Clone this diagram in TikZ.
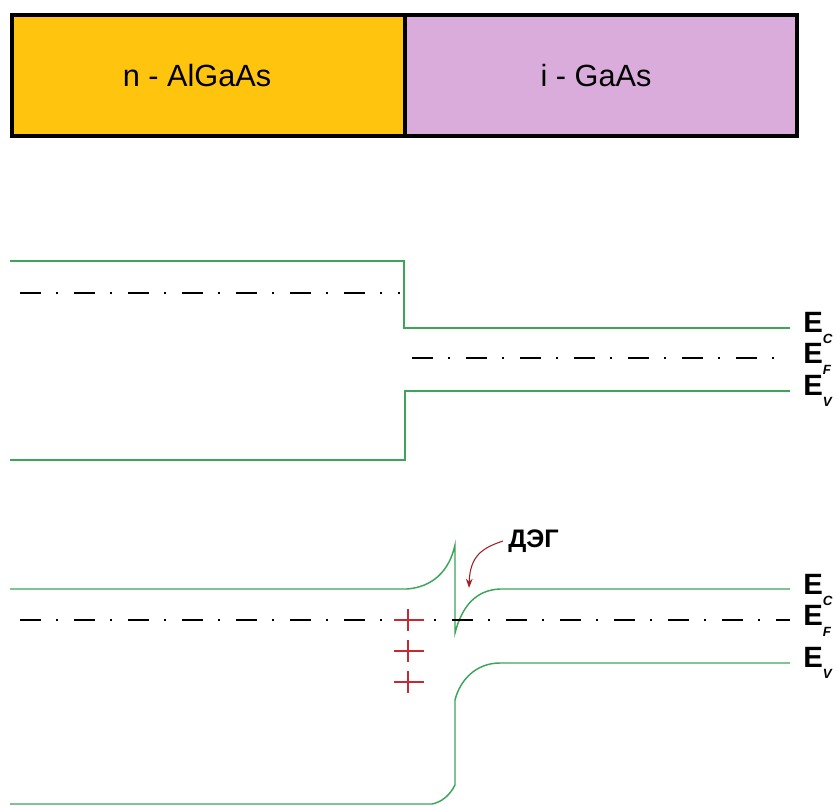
\documentclass[tikz,border=0pt]{standalone}
\usepackage{fontspec}
\setmainfont{Liberation Sans}
\usetikzlibrary{arrows.meta}
\definecolor{bandgreen}{RGB}{60,165,90}
\definecolor{ngold}{RGB}{255,196,14}
\definecolor{ipink}{RGB}{218,172,220}
\definecolor{plusred}{RGB}{200,40,50}
\tikzset{
  band/.style={draw=bandgreen,line width=1.1pt},
  fermi/.style={draw=black,line width=1.2pt,dash pattern=on 16pt off 11pt on 1.5pt off 12pt},
  lyr/.style={draw=black,line width=2.4pt},
  lbl/.style={font=\fontsize{22}{22}\selectfont\bfseries,anchor=west,inner sep=0pt},
  plusmark/.style={draw=plusred,line width=0.8pt},
}
\newcommand{\elab}[1]{E\raisebox{-0.7ex}{\fontsize{10}{10}\selectfont\itshape #1}}
\begin{document}
\begin{tikzpicture}[x=0.75pt,y=-0.75pt]
\useasboundingbox (0,0) rectangle (836,806);
% top layers
\fill[ngold] (12,15) rectangle (405,136);
\fill[ipink] (405,15) rectangle (797,136);
\draw[lyr] (12,15) rectangle (797,136);
\draw[lyr] (405,15) -- (405,136);
\node[font=\fontsize{23}{26}\selectfont] (nlayer) at (197,76) {n - AlGaAs};
\node[font=\fontsize{23}{26}\selectfont] (ilayer) at (596,76) {i - GaAs};
% middle diagram
\draw[band] (10,261) -- (404,261) -- (404,328) -- (790,328);
\draw[band] (10,460) -- (405,460) -- (405,391) -- (790,391);
\draw[fermi] (20,293) -- (400,293);
\draw[fermi] (412,358) -- (790,358);
\node[lbl] (ec1) at (803,328) {\elab{C}};
\node[lbl] (ef1) at (803,359) {\elab{F}};
\node[lbl] (ev1) at (803,391) {\elab{V}};
% bottom diagram
\draw[band] (10,589) -- (407,589) .. controls (432,587) and (449,572) .. (455,545)
  -- (455,633) .. controls (462,606) and (476,590) .. (500,589) -- (790,589);
\draw[band] (790,663) -- (500,663) .. controls (476,663) and (460,680) .. (455,700)
  -- (455,785) .. controls (450,795) and (442,802) .. (432,804) -- (10,804);
\draw[fermi] (20,620) -- (790,620);
\node[lbl] (ec2) at (803,590) {\elab{C}};
\node[lbl] (ef2) at (803,621) {\elab{F}};
\node[lbl] (ev2) at (803,663) {\elab{V}};
\foreach \py in {620,651,682}{
  \draw[plusmark] (394,\py) -- (424,\py);
  \draw[plusmark] (408,\py-11) -- (408,\py+11);
}
\node[font=\fontsize{19}{20}\selectfont\bfseries,anchor=west,inner sep=0pt] (deg) at (508,541) {ДЭГ};
\coordinate (degtip) at (469,588);
\draw[draw=plusred!80!black,line width=0.8pt,-{Stealth[length=7pt,width=5pt]}] (deg.west) ++(-5,0) .. controls (482,548) and (470,556) .. (degtip);
\end{tikzpicture}
\end{document}
